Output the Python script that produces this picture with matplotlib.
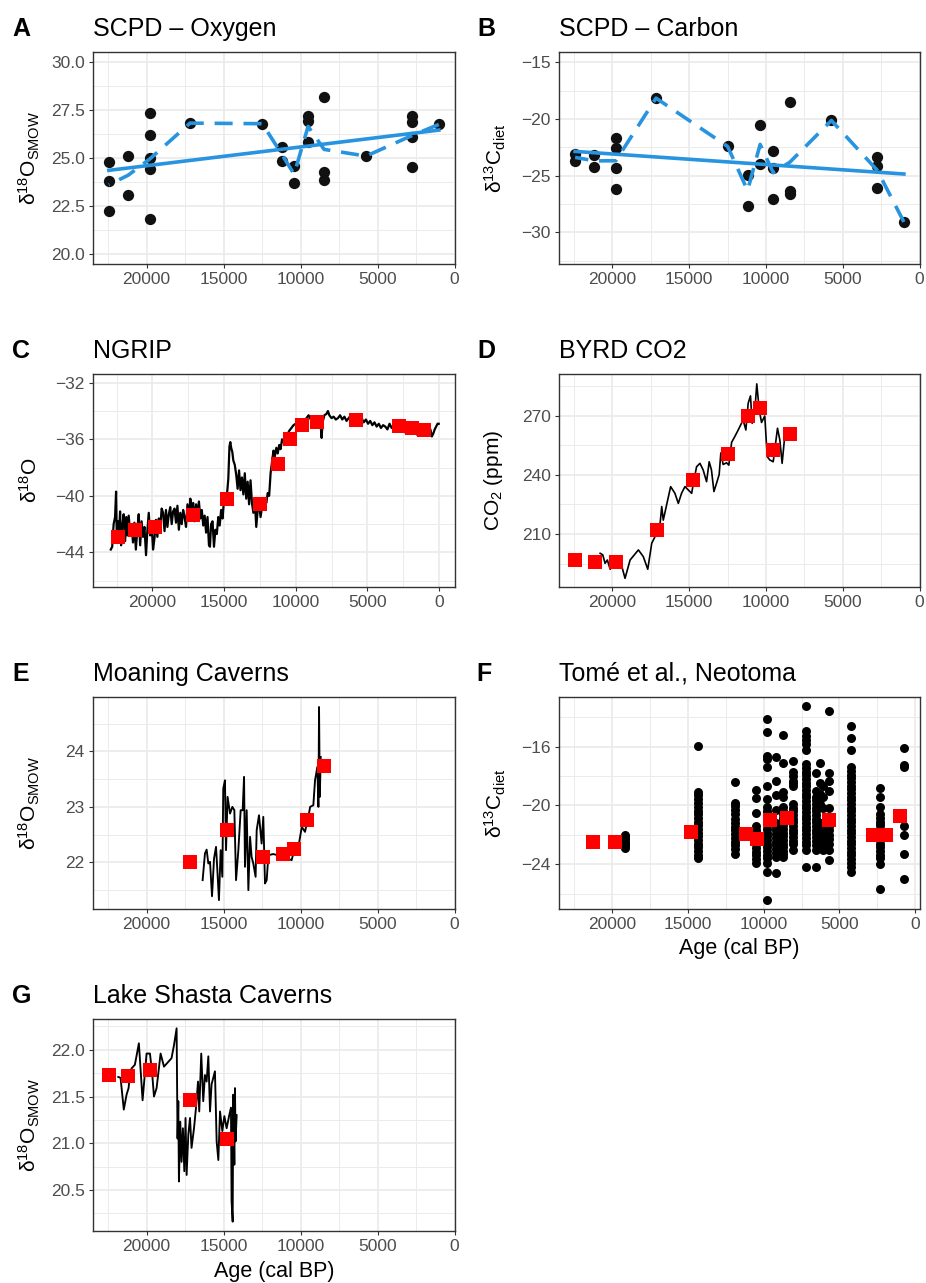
import numpy as np
import matplotlib
matplotlib.use('Agg')
import matplotlib.pyplot as plt

plt.rcParams['font.family'] = ['Liberation Sans', 'DejaVu Sans']
plt.rcParams['mathtext.fontset'] = 'custom'
plt.rcParams['mathtext.rm'] = 'Liberation Sans'
plt.rcParams['mathtext.it'] = 'Liberation Sans:italic'
plt.rcParams['mathtext.bf'] = 'Liberation Sans:bold'

# ---- A: SCPD oxygen ----
a_age = [22450, 22450, 22450, 21190, 21190, 19780, 19780, 19780, 19780, 19780,
         17180, 12480, 11220, 11220, 10420, 10420, 9510, 9510, 9510,
         8470, 8470, 8470, 5740, 2770, 2770, 2770, 2770, 1020]
a_val = [24.78, 23.81, 22.24, 25.12, 23.10, 27.33, 26.19, 24.98, 24.43, 21.86,
         26.81, 26.78, 25.55, 24.84, 24.60, 23.72, 27.16, 26.91, 25.84,
         28.17, 24.29, 23.88, 25.10, 27.16, 26.88, 26.07, 24.55, 26.74]

# ---- B: SCPD carbon ----
b_age = [22430, 22430, 21170, 21170, 19780, 19780, 19780, 19780, 17160, 12500,
         11200, 11200, 10380, 10380, 9530, 9530, 9530, 8450, 8450, 8450,
         5740, 2750, 2750, 2750, 1020]
b_val = [-23.10, -23.69, -23.16, -24.25, -21.69, -22.57, -24.33, -26.18, -18.17, -22.43,
         -24.98, -27.65, -20.52, -23.98, -22.87, -24.33, -27.03, -18.52, -26.33, -26.62,
         -20.14, -23.34, -24.19, -26.09, -29.09]

# ---- C: NGRIP ----
ngrip_age = [22900, 22800, 22700, 22600, 22530, 22480, 22400, 22330, 22250, 22180,
             22100, 22000, 21900, 21820, 21750, 21650, 21550, 21450, 21350, 21250,
             21150, 21050, 20950, 20850, 20750, 20650, 20550, 20440, 20350, 20250,
             20150, 20050, 19950, 19850, 19750, 19650, 19550, 19450, 19350, 19250,
             19150, 19050, 18950, 18850, 18750, 18650, 18550, 18450, 18350, 18250,
             18150, 18050, 17950, 17850, 17750, 17650, 17550, 17450, 17350, 17250,
             17150, 17050, 16950, 16850, 16750, 16650, 16550, 16450, 16350, 16250,
             16150, 16050, 15980, 15900, 15800, 15700, 15600, 15500, 15400, 15300,
             15200, 15100, 15000, 14900, 14800, 14700, 14620, 14560, 14500, 14420,
             14350, 14250, 14150, 14050, 13950, 13850, 13750, 13650, 13550, 13450,
             13350, 13250, 13150, 13050, 12950, 12850, 12750, 12650, 12550, 12450,
             12350, 12250, 12150, 12050, 11950, 11850, 11750, 11650, 11550, 11450,
             11350, 11250, 11150, 11050, 10950, 10850, 10750, 10600, 10450, 10300,
             10150, 10000, 9850, 9700, 9550, 9400, 9250, 9100, 8950, 8800,
             8650, 8500, 8350, 8250, 8190, 8120, 8000, 7850, 7750, 7650,
             7500, 7350, 7200, 7050, 6900, 6750, 6600, 6450, 6300, 6150,
             6000, 5850, 5700, 5550, 5400, 5250, 5100, 4950, 4800, 4650,
             4500, 4350, 4200, 4050, 3900, 3750, 3600, 3450, 3300, 3150,
             3000, 2850, 2700, 2550, 2400, 2250, 2100, 1950, 1800, 1650,
             1500, 1350, 1200, 1050, 900, 750, 600, 500, 400, 300,
             200, 100, 20]
ngrip_val = [-43.8, -43.6, -42.0, -41.5, -39.7, -43.0, -41.8, -42.9, -41.1, -43.5,
             -42.2, -41.3, -43.2, -41.5, -42.8, -41.4, -42.6, -42.0, -43.3, -41.9,
             -43.8, -42.4, -41.3, -43.5, -41.8, -42.9, -42.2, -44.2, -42.5, -41.2,
             -42.8, -42.0, -43.8, -43.0, -41.7, -42.9, -41.6, -42.3, -40.9, -41.2,
             -42.5, -41.0, -42.2, -41.3, -40.8, -42.0, -41.1, -40.9, -41.9, -40.7,
             -42.4, -41.2, -42.0, -41.0, -41.5, -42.2, -40.6, -41.7, -40.2, -41.0,
             -40.5, -41.8, -40.6, -41.3, -40.4, -41.6, -41.0, -42.1, -41.4, -42.6,
             -41.5, -43.5, -43.6, -42.0, -41.8, -43.6, -42.4, -42.7, -41.5, -42.1,
             -41.0, -41.6, -40.3, -40.5, -40.0, -38.8, -36.5, -36.2, -36.6, -36.9,
             -37.5, -37.8, -38.5, -39.5, -38.2, -39.6, -38.7, -39.9, -38.4, -40.2,
             -39.0, -40.6, -38.9, -40.5, -41.2, -40.3, -42.2, -41.0, -40.6, -41.5,
             -40.8, -40.9, -40.2, -40.5, -39.8, -40.0, -38.4, -37.6, -36.8, -37.2,
             -36.6, -37.0, -36.4, -36.7, -36.0, -36.2, -35.8, -35.7, -35.4, -35.2,
             -35.0, -34.9, -34.7, -34.9, -34.6, -34.8, -34.5, -34.3, -34.6, -34.5,
             -34.7, -34.9, -34.6, -35.1, -35.9, -34.8, -34.3, -34.2, -34.0, -34.3,
             -34.5, -34.4, -34.6, -34.5, -34.3, -34.6, -34.4, -34.7, -34.5, -34.3,
             -34.6, -34.4, -34.6, -34.7, -34.5, -34.8, -34.6, -34.9, -34.7, -35.0,
             -34.8, -35.1, -34.9, -35.2, -35.0, -35.1, -35.3, -34.9, -35.2, -35.0,
             -35.3, -35.1, -35.4, -35.2, -35.5, -35.3, -35.6, -35.4, -35.6, -35.5,
             -35.7, -35.5, -35.6, -35.4, -35.7, -35.5, -35.3, -35.8, -35.6, -35.3,
             -35.1, -34.9, -34.9]
c_sq_age = [22370, 21210, 19810, 17140, 14770, 12470, 11210, 10370, 9560, 8490,
            5770, 2770, 1910, 1050]
c_sq_val = [-42.89, -42.44, -42.23, -41.38, -40.20, -40.56, -37.78, -35.96, -34.97, -34.81,
            -34.64, -35.04, -35.18, -35.35]

# ---- D: BYRD CO2 ----
byrd_age = [20800, 20630, 20480, 20330, 20150, 19830, 19500, 19180, 18850, 18310,
            17990, 17700, 17440, 17120, 16900, 16790, 16690, 16210, 15930, 15710,
            15500, 15280, 15060, 14840, 14730, 14520, 14300, 14090, 13870, 13700,
            13550, 13390, 13220, 13050, 12940, 12790, 12570, 12420, 12240, 12030,
            11810, 11490, 11310, 11160, 11010, 10900, 10730, 10600, 10440, 10290,
            10080, 9920, 9750, 9530, 9250, 9100, 8950, 8780]
byrd_val = [200.2, 199.4, 195.1, 196.8, 192.1, 196.8, 196.8, 187.5, 196.8, 201.9,
            198.5, 192.1, 205.3, 210.3, 215.0, 223.9, 217.0, 234.0, 230.6, 225.5,
            230.6, 234.0, 232.3, 230.6, 235.7, 244.1, 245.8, 242.4, 236.5, 246.6,
            242.4, 231.5, 235.7, 240.1, 251.1, 245.2, 246.1, 244.9, 256.4, 259.4,
            262.7, 267.8, 262.7, 276.3, 280.0, 266.1, 272.0, 286.1, 272.9, 266.5,
            269.8, 249.2, 247.5, 246.6, 263.6, 257.7, 245.8, 259.4]
d_sq_age = [22430, 21130, 19780, 17120, 14780, 12500, 11200, 10380, 9530, 8450]
d_sq_val = [196.8, 195.6, 195.6, 212.0, 237.2, 250.4, 269.8, 273.9, 252.6, 260.9]

# ---- E: Moaning Caverns ----
moan_age = [16360, 16210, 16100, 15990, 15880, 15750, 15620, 15490, 15410, 15300,
            15190, 15080, 15020, 14910, 14840, 14740, 14580, 14430, 14300, 14190,
            14040, 13890, 13760, 13670, 13610, 13500, 13390, 13280, 13180, 13070,
            12920, 12850, 12700, 12530, 12420, 12310, 12200, 12090, 11770, 11120,
            10580, 10470, 10140, 10030, 9920, 9710, 9600, 9490, 9380, 9170,
            9060, 8910, 8840, 8800, 8750, 8690]
moan_val = [21.68, 22.16, 22.23, 21.98, 22.01, 21.39, 22.07, 22.28, 21.89, 21.32,
            22.22, 21.74, 23.33, 23.48, 22.22, 23.18, 22.88, 23.00, 22.94, 21.68,
            22.22, 22.94, 22.94, 23.54, 21.92, 22.94, 21.50, 22.46, 22.10, 21.98,
            21.74, 22.58, 22.85, 22.34, 22.82, 21.62, 21.68, 22.13, 22.15, 22.10,
            22.04, 22.16, 22.28, 22.46, 22.64, 22.55, 22.70, 22.82, 23.00, 23.03,
            23.48, 23.72, 23.00, 24.80, 23.18, 23.90]
e_sq_age = [17160, 14760, 12460, 11160, 10400, 9560, 8450]
e_sq_val = [22.00, 22.58, 22.09, 22.15, 22.25, 22.77, 23.73]

# ---- F: Tomé et al., Neotoma (columns of samples) ----
tome_col_age = [19170, 14310, 11870, 10530, 9760, 9210, 8730, 8070, 7230, 6570,
                6260, 6090, 5710, 4260, 2310, 750]
tome_col_val = [
    [-22.0, -22.15, -22.3, -22.45, -22.6, -22.75, -22.9],
    [-15.95, -19.05, -19.3, -19.55, -19.8, -20.1, -20.4, -20.6, -20.85, -21.1, -21.35,
     -21.6, -21.85, -22.1, -22.35, -22.6, -22.85, -23.1, -23.35, -23.6],
    [-18.4, -19.8, -20.05, -20.3, -20.6, -20.9, -21.2, -21.45, -21.7, -21.95, -22.2,
     -22.45, -22.7, -22.95, -23.3],
    [-18.95, -19.5, -20.5, -21.4, -21.65, -21.9, -22.15, -22.4, -22.65, -22.9, -23.15,
     -23.4, -23.65, -23.9],
    [-14.1, -15.0, -16.6, -16.85, -17.4, -18.7, -19.55, -20.1, -20.35, -20.6, -20.85,
     -21.1, -21.35, -21.6, -21.85, -22.1, -22.35, -22.6, -22.85, -23.1, -23.35, -23.6,
     -23.9, -24.5, -26.4],
    [-16.7, -18.3, -19.3, -20.3, -21.2, -21.45, -21.7, -21.95, -22.2, -22.45, -22.7,
     -22.95, -23.2, -23.5, -24.6],
    [-15.2, -17.1, -19.1, -19.45, -20.1, -20.35, -20.6, -20.85, -21.1, -21.35, -21.6,
     -21.85, -22.1, -22.35, -22.6, -22.85, -23.1, -23.3, -23.5],
    [-17.0, -17.7, -18.0, -18.3, -18.5, -18.7, -19.9, -20.15, -20.4, -20.65, -20.9,
     -21.15, -21.4, -21.65, -21.9, -22.15, -22.4, -22.65, -23.0],
    [-13.2, -14.9, -15.3, -15.55, -15.8, -16.2, -17.2, -17.45, -17.7, -17.95, -18.2,
     -18.45, -18.7, -18.95, -19.2, -19.45, -19.7, -19.95, -20.2, -20.45, -20.7, -20.95,
     -21.2, -21.45, -21.7, -21.95, -22.2, -22.45, -22.7, -23.0, -24.2],
    [-17.8, -19.0, -19.4, -19.65, -19.9, -20.15, -20.4, -20.65, -20.9, -21.15, -21.4,
     -21.65, -21.9, -22.15, -22.4, -22.7, -23.0, -24.2],
    [-17.1, -18.5, -19.2, -19.5, -19.9, -21.2, -21.5, -21.8, -22.1, -22.4, -22.8],
    [-18.7, -19.4, -20.2, -21.2, -21.5, -21.8, -22.1, -22.4, -22.7, -23.0],
    [-13.55, -17.8, -18.3, -19.0, -20.2, -20.8, -21.1, -21.4, -21.7, -22.0, -22.3,
     -22.6, -23.0, -23.7],
    [-14.6, -15.4, -16.2, -17.4, -17.65, -17.9, -18.15, -18.4, -18.65, -18.9, -19.15,
     -19.4, -19.65, -19.9, -20.15, -20.4, -20.65, -20.9, -21.15, -21.4, -21.65, -21.9,
     -22.15, -22.4, -22.65, -22.9, -23.15, -23.4, -23.65, -23.9, -24.15, -24.5],
    [-18.8, -19.4, -20.1, -20.6, -20.85, -21.1, -21.35, -21.6, -21.85, -22.1, -22.35,
     -22.6, -22.85, -23.1, -23.35, -23.6, -24.0, -25.7],
    [-16.1, -17.25, -17.35, -21.4, -22.0, -23.3, -25.0],
]
f_sq_age = [21230, 19780, 14770, 11190, 10440, 9560, 8460, 5710, 2790, 1910, 990]
f_sq_val = [-22.46, -22.46, -21.82, -21.92, -22.28, -20.99, -20.87, -20.99, -22.0, -22.0, -20.71]

# ---- G: Lake Shasta Caverns ----
shasta_age = [21840, 21690, 21480, 21300, 21170, 21080, 20980, 20760, 20500, 20260,
              20000, 19780, 19630, 19520, 19350, 19090, 18870, 18380, 18220, 18050,
              17990, 17940, 17900, 17810, 17730, 17640, 17550, 17470, 17400, 17290,
              17180, 17080, 16920, 16790, 16660, 16580, 16450, 16320, 16210, 16100,
              15990, 15880, 15780, 15560, 15450, 15340, 15230, 15080, 14950, 14800,
              14630, 14520, 14480, 14410, 14370, 14300, 14260, 14220, 14150]
shasta_val = [21.71, 21.70, 21.36, 21.52, 21.59, 21.73, 21.80, 21.84, 22.07, 21.46,
              21.96, 21.96, 21.73, 21.50, 21.59, 21.96, 21.82, 21.91, 22.05, 22.23,
              21.05, 21.45, 20.59, 21.23, 20.80, 21.16, 20.70, 21.27, 20.66, 21.09,
              21.27, 20.95, 21.16, 21.38, 21.66, 21.34, 21.96, 21.45, 21.73, 21.66,
              21.93, 21.34, 21.63, 21.77, 21.02, 20.82, 21.34, 21.13, 21.29, 21.16,
              21.30, 21.38, 20.38, 20.16, 21.52, 20.77, 21.59, 21.02, 21.30]
g_sq_age = [22430, 21190, 19780, 17160, 14760]
g_sq_val = [21.73, 21.72, 21.78, 21.46, 21.05]

BLUE = '#2894E0'
W, H = 926, 1283
SQ = 92   # size of the red squares


def make_ax(fig, left, right, top, bottom):
    return fig.add_axes([left / W, 1 - bottom / H, (right - left) / W, (bottom - top) / H])


def style(ax, ylim, yticks, yminor, xlim=(23480, -30), yfmt=None):
    ax.set_xlim(xlim)
    ax.set_ylim(ylim)
    ax.set_xticks([20000, 15000, 10000, 5000, 0])
    ax.set_xticklabels(['20000', '15000', '10000', '5000', '0'])
    ax.set_xticks([22500, 17500, 12500, 7500, 2500], minor=True)
    ax.set_yticks(yticks)
    if yfmt:
        ax.set_yticklabels([yfmt % v for v in yticks])
    ax.set_yticks(yminor, minor=True)
    ax.grid(which='major', color='#EBEBEB', lw=1.25)
    ax.grid(which='minor', color='#EBEBEB', lw=0.7)
    ax.set_axisbelow(True)
    ax.tick_params(which='major', length=3, width=0.8, color='#333333',
                   labelcolor='#4D4D4D', labelsize=12.5, pad=3)
    ax.tick_params(which='minor', length=0)
    for s in ax.spines.values():
        s.set_color('#333333')
        s.set_linewidth(1.0)


def head(fig, x_letter, x_title, y_base, letter, title):
    fig.text(x_letter / W, 1 - y_base / H, letter, fontsize=18, fontweight='bold',
             va='baseline', ha='left')
    fig.text(x_title / W, 1 - y_base / H, title, fontsize=18, va='baseline', ha='left')


def smooth_and_means(ax, age, val):
    # dashed = mean per age, solid = linear fit
    age = np.array(age)
    val = np.array(val)
    ux = np.unique(age)
    means = [val[age == u].mean() for u in ux]
    k, b = np.polyfit(age, val, 1)
    xs = np.array([age.min(), age.max()])
    ax.plot(ux, means, color=BLUE, lw=2.6, ls=(0, (5, 3)), zorder=4)
    ax.plot(xs, k * xs + b, color=BLUE, lw=2.6, zorder=4)


fig = plt.figure(figsize=(W / 100, H / 100), dpi=100)

d18_smow = 'δ$^{18}$O$_{\\mathrm{SMOW}}$'
d13_diet = 'δ$^{13}$C$_{\\mathrm{diet}}$'
YLAB = 15

# A
ax = make_ax(fig, 93, 455, 52, 264)
ax.scatter(a_age, a_val, s=66, color='#111111', zorder=3, linewidths=0)
smooth_and_means(ax, a_age, a_val)
style(ax, (19.5, 30.5), [20, 22.5, 25, 27.5, 30], [21.25, 23.75, 26.25, 28.75], yfmt='%.1f')
ax.set_ylabel(d18_smow, fontsize=YLAB)
ax.yaxis.set_label_coords(-0.14, 0.5)
head(fig, 12, 93, 36, 'A', 'SCPD – Oxygen')

# B
ax = make_ax(fig, 559, 920, 52, 264)
ax.scatter(b_age, b_val, s=66, color='#111111', zorder=3, linewidths=0)
smooth_and_means(ax, b_age, b_val)
style(ax, (-32.8, -14.1), [-30, -25, -20, -15], [-32.5, -27.5, -22.5, -17.5])
ax.set_ylabel(d13_diet, fontsize=YLAB)
ax.yaxis.set_label_coords(-0.14, 0.5)
head(fig, 477, 559, 36, 'B', 'SCPD – Carbon')

# C
ax = make_ax(fig, 93, 455, 374, 587)
ax.plot(ngrip_age, ngrip_val, color='black', lw=1.6, zorder=3)
ax.scatter(c_sq_age, c_sq_val, marker='s', s=SQ, color='#FF0000', zorder=4, linewidths=0)
style(ax, (-46.45, -31.38), [-44, -40, -36, -32], [-46, -42, -38, -34], xlim=(24140, -1116))
ax.set_ylabel('δ$^{18}$O', fontsize=YLAB)
ax.yaxis.set_label_coords(-0.145, 0.5)
head(fig, 12, 93, 358, 'C', 'NGRIP')

# D
ax = make_ax(fig, 559, 920, 374, 587)
ax.plot(byrd_age, byrd_val, color='black', lw=1.2, zorder=3)
ax.scatter(d_sq_age, d_sq_val, marker='s', s=SQ, color='#FF0000', zorder=4, linewidths=0)
style(ax, (183.1, 291.1), [210, 240, 270], [195, 225, 255, 285])
ax.set_ylabel('CO$_2$ (ppm)', fontsize=YLAB)
ax.yaxis.set_label_coords(-0.15, 0.5)
head(fig, 477, 559, 358, 'D', 'BYRD CO2')

# E
ax = make_ax(fig, 93, 455, 697, 909)
ax.plot(moan_age, moan_val, color='black', lw=1.35, zorder=3)
ax.scatter(e_sq_age, e_sq_val, marker='s', s=SQ, color='#FF0000', zorder=4, linewidths=0)
style(ax, (21.16, 24.98), [22, 23, 24], [21.5, 22.5, 23.5, 24.5])
ax.set_ylabel(d18_smow, fontsize=YLAB)
ax.yaxis.set_label_coords(-0.14, 0.5)
head(fig, 12, 93, 681, 'E', 'Moaning Caverns')

# F
ax = make_ax(fig, 559, 920, 697, 909)
for age, vals in zip(tome_col_age, tome_col_val):
    ax.scatter([age] * len(vals), vals, s=42, color='black', zorder=3, linewidths=0)
ax.scatter(f_sq_age, f_sq_val, marker='s', s=SQ, color='#FF0000', zorder=4, linewidths=0)
style(ax, (-27.04, -12.62), [-24, -20, -16], [-26, -22, -18, -14], xlim=(23495, -310))
ax.set_ylabel(d13_diet, fontsize=YLAB)
ax.yaxis.set_label_coords(-0.14, 0.5)
ax.set_xlabel('Age (cal BP)', fontsize=15.5, labelpad=4)
head(fig, 476, 559, 681, 'F', 'Tomé et al., Neotoma')

# G
ax = make_ax(fig, 93, 455, 1019, 1231)
ax.plot(shasta_age, shasta_val, color='black', lw=1.35, zorder=3)
ax.scatter(g_sq_age, g_sq_val, marker='s', s=SQ, color='#FF0000', zorder=4, linewidths=0)
style(ax, (20.06, 22.33), [20.5, 21.0, 21.5, 22.0], [20.25, 20.75, 21.25, 21.75, 22.25], yfmt='%.1f')
ax.set_ylabel(d18_smow, fontsize=YLAB)
ax.yaxis.set_label_coords(-0.14, 0.5)
ax.set_xlabel('Age (cal BP)', fontsize=15.5, labelpad=5)
head(fig, 12, 93, 1003, 'G', 'Lake Shasta Caverns')

fig.savefig('out.png', dpi=100)
